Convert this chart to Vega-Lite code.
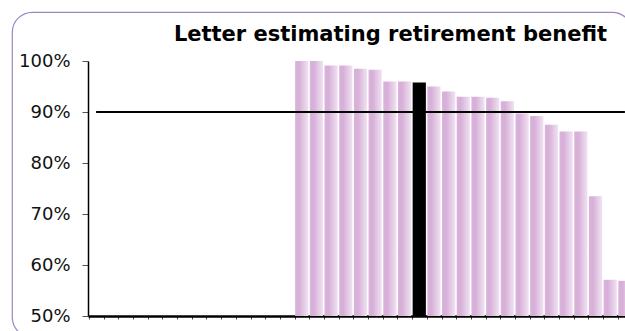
{
  "$schema": "https://vega.github.io/schema/vega-lite/v6.json",
  "width": 620,
  "height": 325,
  "autosize": {"type": "none"},
  "padding": {"left": 12, "top": 12, "right": -7, "bottom": -6},
  "background": "white",
  "config": {
    "view": {"stroke": "#9d86c6", "strokeWidth": 1.2, "cornerRadius": 20},
    "font": "DejaVu Sans"
  },
  "title": {
    "text": "Letter estimating retirement benefit",
    "anchor": "end",
    "frame": "group",
    "font": "DejaVu Sans",
    "fontSize": 21,
    "fontWeight": "bold",
    "color": "black",
    "baseline": "alphabetic",
    "offset": -29,
    "dx": -25,
    "dy": 21
  },
  "datasets": {
    "bars": [
      {"cat": "c01", "value": 0.5, "highlight": false},
      {"cat": "c02", "value": 0.5, "highlight": false},
      {"cat": "c03", "value": 0.5, "highlight": false},
      {"cat": "c04", "value": 0.5, "highlight": false},
      {"cat": "c05", "value": 0.5, "highlight": false},
      {"cat": "c06", "value": 0.5, "highlight": false},
      {"cat": "c07", "value": 0.5, "highlight": false},
      {"cat": "c08", "value": 0.5, "highlight": false},
      {"cat": "c09", "value": 0.5, "highlight": false},
      {"cat": "c10", "value": 0.5, "highlight": false},
      {"cat": "c11", "value": 0.5, "highlight": false},
      {"cat": "c12", "value": 0.5, "highlight": false},
      {"cat": "c13", "value": 0.5, "highlight": false},
      {"cat": "c14", "value": 0.5, "highlight": false},
      {"cat": "c15", "value": 1.0, "highlight": false},
      {"cat": "c16", "value": 1.0, "highlight": false},
      {"cat": "c17", "value": 0.991, "highlight": false},
      {"cat": "c18", "value": 0.991, "highlight": false},
      {"cat": "c19", "value": 0.985, "highlight": false},
      {"cat": "c20", "value": 0.983, "highlight": false},
      {"cat": "c21", "value": 0.96, "highlight": false},
      {"cat": "c22", "value": 0.96, "highlight": false},
      {"cat": "c23", "value": 0.958, "highlight": true},
      {"cat": "c24", "value": 0.95, "highlight": false},
      {"cat": "c25", "value": 0.94, "highlight": false},
      {"cat": "c26", "value": 0.93, "highlight": false},
      {"cat": "c27", "value": 0.93, "highlight": false},
      {"cat": "c28", "value": 0.928, "highlight": false},
      {"cat": "c29", "value": 0.921, "highlight": false},
      {"cat": "c30", "value": 0.897, "highlight": false},
      {"cat": "c31", "value": 0.892, "highlight": false},
      {"cat": "c32", "value": 0.875, "highlight": false},
      {"cat": "c33", "value": 0.862, "highlight": false},
      {"cat": "c34", "value": 0.862, "highlight": false},
      {"cat": "c35", "value": 0.735, "highlight": false},
      {"cat": "c36", "value": 0.571, "highlight": false},
      {"cat": "c37", "value": 0.569, "highlight": false}
    ],
    "threshold": [{"target": 0.9}]
  },
  "layer": [
    {
      "data": {"name": "bars"},
      "mark": {"type": "bar"},
      "encoding": {
        "x": {
          "field": "cat",
          "type": "ordinal",
          "sort": null,
          "scale": {"range": [76, 621], "paddingInner": 0.1, "paddingOuter": 0.1},
          "axis": {
            "title": null,
            "labels": false,
            "offset": -21,
            "domainColor": "black",
            "domainWidth": 2.5,
            "tickColor": "#444",
            "tickSize": 3,
            "tickWidth": 1,
            "bandPosition": 0
          }
        },
        "y": {
          "field": "value",
          "type": "quantitative",
          "scale": {"domain": [0.5, 1], "range": [304, 49], "zero": false, "nice": false},
          "axis": {
            "title": null,
            "values": [0.5, 0.6, 0.7, 0.8, 0.9, 1.0],
            "format": ".0%",
            "offset": -76,
            "grid": false,
            "domainColor": "black",
            "domainWidth": 1.5,
            "tickColor": "#555",
            "tickSize": 6,
            "labelPadding": 12,
            "labelFont": "DejaVu Sans",
            "labelFontSize": 18,
            "labelColor": "#111"
          }
        },
        "y2": {"datum": 0.5},
        "color": {
          "condition": {"test": "datum.highlight", "value": "black"},
          "value": {
            "gradient": "linear",
            "x1": 0, "y1": 0, "x2": 1, "y2": 0,
            "stops": [
              {"offset": 0, "color": "#d9b3da"},
              {"offset": 0.3, "color": "#d7afd8"},
              {"offset": 1, "color": "#f0e3f2"}
            ]
          }
        }
      }
    },
    {
      "data": {"name": "threshold"},
      "mark": {"type": "rule", "color": "black", "strokeWidth": 2},
      "encoding": {
        "x": {"datum": "c01"},
        "x2": {"datum": "c37"},
        "y": {"field": "target", "type": "quantitative"}
      }
    }
  ]
}
